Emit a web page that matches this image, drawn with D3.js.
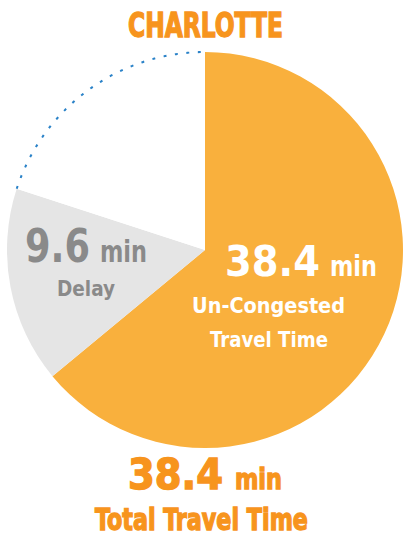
<!DOCTYPE html>
<html>
  <head>
    <meta charset="utf-8" />
    <script src="https://d3js.org/d3.v7.min.js"></script>
    <style>
      body { margin: 0; background: #fff; }
      text { font-family: "DejaVu Sans Condensed", "Liberation Sans", sans-serif; font-weight: bold; }
    </style>
  </head>
  <body>
    <svg id="chart" width="406" height="537"></svg>
    <script>
      // slice data (minutes); the last slice is the empty part of the hour
      var sliceNames = ["Un-Congested", "Delay", "Rest"];
      var sliceValues = [38.4, 9.6, 12];
      var sliceColors = ["#f9b03d", "#e5e5e5", "#ffffff"];

      var city = "CHARLOTTE";
      var totalValue = 38.4;
      var totalLabel = "Total Travel Time";

      var svg = d3.select("#chart");
      var cx = 205, cy = 250, radius = 198;

      var pie = d3.pie().sort(null).value(function(d) { return d; });
      var arcs = pie(sliceValues);
      var arc = d3.arc().innerRadius(0).outerRadius(radius);

      var g = svg.append("g").attr("transform", "translate(" + cx + "," + cy + ")");

      g.selectAll("path.slice")
        .data(arcs)
        .enter().append("path")
        .attr("class", "slice")
        .attr("d", arc)
        .attr("fill", function(d, i) { return sliceColors[i]; });

      // dotted outline on the empty slice
      var rest = arcs[2];
      g.append("path")
        .attr("d", d3.arc().innerRadius(radius).outerRadius(radius)(rest))
        .attr("fill", "none")
        .attr("stroke", "#2a82c8")
        .attr("stroke-width", 2)
        .attr("stroke-dasharray", "2.5,9");

      // squeezed text helper: x is left edge, w is the width wanted
      function label(x, y, w, size, color, str, heavy) {
        var t = svg.append("text")
          .attr("x", x).attr("y", y)
          .attr("font-size", size)
          .attr("fill", color)
          .attr("textLength", w)
          .attr("lengthAdjust", "spacingAndGlyphs")
          .text(str);
        if (heavy) t.attr("stroke", color).attr("stroke-width", 1.3);
        return t;
      }

      // title
      label(128, 37, 155, 33, "#f7941d", city, true);

      // delay label
      label(25, 262, 65, 46, "#8a8a8a", sliceValues[1]);
      label(100, 262, 47, 30, "#8a8a8a", "min");
      label(57, 296, 58, 22, "#8a8a8a", sliceNames[1]);

      // un-congested label
      label(225, 276, 95, 43, "#fff", sliceValues[0]);
      label(330, 276, 47, 29, "#fff", "min");
      label(192, 313, 153, 21, "#fff", sliceNames[0]);
      label(210, 347, 118, 21, "#fff", "Travel Time");

      // total
      label(128, 489, 95, 42, "#f7941d", totalValue, true);
      label(235, 489, 47, 29, "#f7941d", "min", true);
      label(95, 530, 213, 30, "#f7941d", totalLabel, true);
    </script>
  </body>
</html>
